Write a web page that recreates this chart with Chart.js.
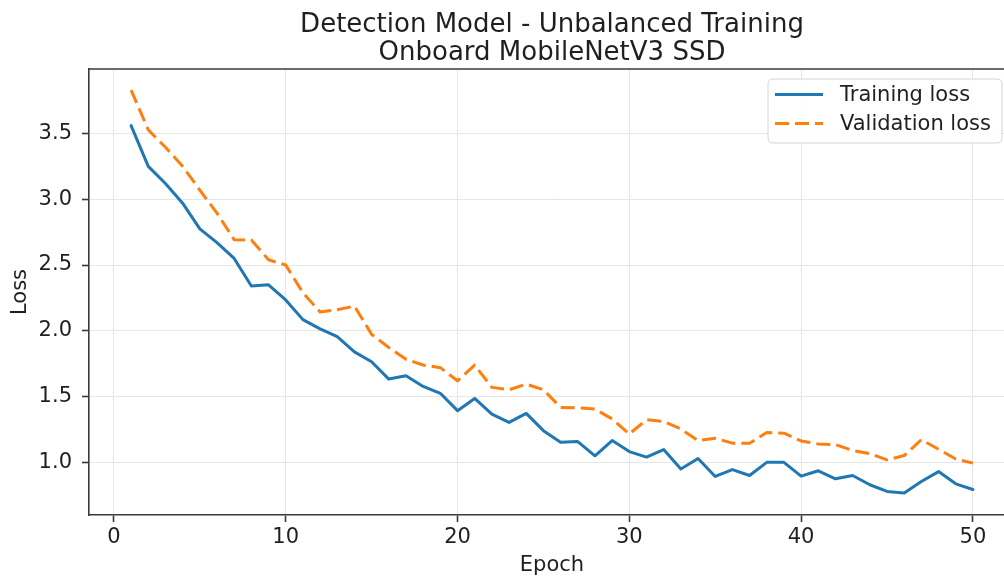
<!DOCTYPE html>
<html>
<head>
<meta charset="utf-8">
<script src="https://cdn.jsdelivr.net/npm/chart.js@4.4.1/dist/chart.umd.min.js"></script>
<style>
html, body { margin: 0; padding: 0; overflow: hidden; background: #fff; width: 1004px; height: 578px; }
#wrap { width: 1102px; height: 578px; }
canvas { display: block; }
</style>
</head>
<body>
<div id="wrap"><canvas id="c" width="1102" height="578" style="width:1102px;height:578px"></canvas></div>
<script>
const epochs = [1,2,3,4,5,6,7,8,9,10,11,12,13,14,15,16,17,18,19,20,21,22,23,24,25,26,27,28,29,30,31,32,33,34,35,36,37,38,39,40,41,42,43,44,45,46,47,48,49,50];
const trainingLoss = [3.56,3.25,3.12,2.97,2.775,2.67,2.55,2.34,2.35,2.235,
  2.085,2.015,1.955,1.84,1.765,1.633,1.658,1.577,1.525,1.393,
  1.486,1.367,1.304,1.372,1.241,1.153,1.158,1.05,1.166,1.082,
  1.04,1.097,0.95,1.03,0.893,0.945,0.90,1.0,1.0,0.895,
  0.936,0.875,0.90,0.83,0.779,0.767,0.855,0.93,0.837,0.794];
const validationLoss = [3.83,3.527,3.395,3.25,3.07,2.895,2.693,2.69,2.54,2.50,
  2.29,2.143,2.16,2.188,1.973,1.873,1.784,1.74,1.72,1.62,
  1.739,1.57,1.552,1.595,1.552,1.418,1.415,1.405,1.33,1.216,
  1.324,1.31,1.254,1.166,1.183,1.146,1.146,1.227,1.222,1.163,
  1.14,1.135,1.09,1.066,1.019,1.052,1.173,1.10,1.026,0.994];
const xTicks = [0,10,20,30,40,50];
const yTicks = [1.0,1.5,2.0,2.5,3.0,3.5];
const seriesNames = ['Training loss','Validation loss'];
const titleLines = ['Detection Model - Unbalanced Training','Onboard MobileNetV3 SSD'];

const FONT = "'DejaVu Sans', sans-serif";
const BLUE = '#1f77b4', ORANGE = '#ff7f0e';
const TEXT = '#1f1f1f', SPINE = '#3a3a3a', GRID = '#e6e6e6';

const decorations = {
  id: 'decorations',
  afterDatasetsDraw(chart) {
    const ctx = chart.ctx, a = chart.chartArea;
    ctx.save();
    // title (centred over the plot area)
    ctx.fillStyle = TEXT; ctx.font = "26px " + FONT; ctx.textAlign = 'center'; ctx.textBaseline = 'alphabetic';
    const cx = (a.left + a.right) / 2;
    ctx.fillText(titleLines[0], cx, 31.5);
    ctx.fillText(titleLines[1], cx, 60);
    // top spine
    ctx.strokeStyle = SPINE; ctx.lineWidth = 1.6;
    ctx.beginPath(); ctx.moveTo(a.left, a.top); ctx.lineTo(a.right, a.top); ctx.stroke();
    // legend frame
    const lx = 768, ly = 79, lw = 234, lh = 64, r = 5;
    ctx.beginPath();
    ctx.moveTo(lx + r, ly); ctx.lineTo(lx + lw - r, ly); ctx.quadraticCurveTo(lx + lw, ly, lx + lw, ly + r);
    ctx.lineTo(lx + lw, ly + lh - r); ctx.quadraticCurveTo(lx + lw, ly + lh, lx + lw - r, ly + lh);
    ctx.lineTo(lx + r, ly + lh); ctx.quadraticCurveTo(lx, ly + lh, lx, ly + lh - r);
    ctx.lineTo(lx, ly + r); ctx.quadraticCurveTo(lx, ly, lx + r, ly);
    ctx.closePath();
    ctx.fillStyle = 'rgba(255,255,255,0.9)'; ctx.fill();
    ctx.strokeStyle = '#d4d4d4'; ctx.lineWidth = 1; ctx.stroke();
    const rows = [94.5, 123.5];
    chart.data.datasets.forEach((ds, i) => {
      ctx.strokeStyle = ds.borderColor; ctx.lineWidth = 3;
      ctx.setLineDash(ds.borderDash || []);
      ctx.lineCap = 'butt';
      ctx.beginPath(); ctx.moveTo(775, rows[i]); ctx.lineTo(823, rows[i]); ctx.stroke();
      ctx.setLineDash([]);
      ctx.fillStyle = TEXT; ctx.font = "21px " + FONT; ctx.textBaseline = 'middle'; ctx.textAlign = 'left';
      ctx.fillText(ds.label, 840, rows[i] + 1);
    });
    ctx.restore();
  }
};

new Chart(document.getElementById('c'), {
  type: 'line',
  data: {
    datasets: [
      { label: seriesNames[0], data: epochs.map((e, i) => ({x: e, y: trainingLoss[i]})),
        borderColor: BLUE, borderWidth: 3, pointRadius: 0, tension: 0, fill: false,
        borderJoinStyle: 'round', borderCapStyle: 'round' },
      { label: seriesNames[1], data: epochs.map((e, i) => ({x: e, y: validationLoss[i]})),
        borderColor: ORANGE, borderWidth: 3, pointRadius: 0, tension: 0, fill: false,
        borderDash: [14, 6], borderJoinStyle: 'round' }
    ]
  },
  options: {
    responsive: false, animation: false, devicePixelRatio: 1,
    layout: { padding: { left: 0, right: 87, top: 69, bottom: 0 } },
    plugins: {
      legend: { display: false },
      tooltip: { enabled: false },
      title: { display: false }
    },
    scales: {
      x: {
        type: 'linear', min: -1.45, max: 52.45,
        afterBuildTicks: s => { s.ticks = xTicks.map(v => ({value: v})); },
        afterFit: s => { s.height = 63; },
        grid: { color: GRID, lineWidth: 1, drawTicks: true, tickLength: 7, tickColor: SPINE, tickWidth: 1.6 },
        border: { color: SPINE, width: 1.6 },
        ticks: { color: TEXT, font: { family: FONT, size: 21 }, padding: 3, maxRotation: 0, autoSkip: false,
          callback: v => String(v) },
        title: { display: true, text: 'Epoch', color: TEXT, font: { family: FONT, size: 21 }, padding: { top: 0, bottom: 0 } }
      },
      y: {
        type: 'linear', min: 0.60, max: 3.99,
        afterBuildTicks: s => { s.ticks = yTicks.map(v => ({value: v})); },
        afterFit: s => { s.width = 89; },
        grid: { color: GRID, lineWidth: 1, drawTicks: true, tickLength: 7, tickColor: SPINE, tickWidth: 1.6 },
        border: { color: SPINE, width: 1.6 },
        ticks: { color: TEXT, font: { family: FONT, size: 21 }, padding: 10, autoSkip: false,
          callback: v => v.toFixed(1) },
        title: { display: true, text: 'Loss', color: TEXT, font: { family: FONT, size: 21 }, padding: { top: 8, bottom: 8 } }
      }
    }
  },
  plugins: [decorations]
});
</script>
</body>
</html>
